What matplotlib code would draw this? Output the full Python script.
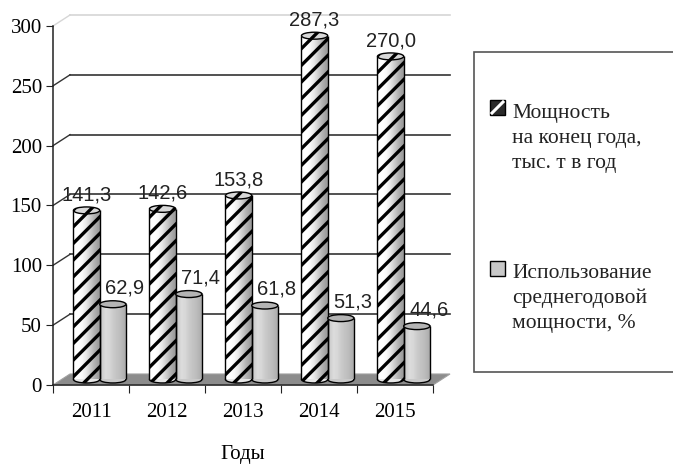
import numpy as np
import matplotlib.pyplot as plt
from matplotlib.patches import Ellipse, Polygon, Rectangle
from matplotlib.lines import Line2D

# данные
years = ["2011", "2012", "2013", "2014", "2015"]
power = [141.3, 142.6, 153.8, 287.3, 270.0]      # мощность на конец года, тыс. т
usage = [62.9, 71.4, 61.8, 51.3, 44.6]           # использование мощности, %
yticks = [0, 50, 100, 150, 200, 250, 300]
legend_labels = ["Мощность\nна конец года,\nтыс. т в год",
                 "Использование\nсреднегодовой\nмощности, %"]
xlabel = "Годы"

# псевдо-3D параметры (в единицах данных)
DX = 0.224      # сдвиг задней стенки по x
DY = 9.2        # сдвиг задней стенки по y
W = 0.345       # ширина цилиндра
EH = 5.8        # высота эллипса крышки

serif = "Liberation Serif"
sans = "Liberation Sans"
plt.rcParams["hatch.linewidth"] = 2.4

W_PX, H_PX = 673, 465
fig = plt.figure(figsize=(W_PX / 100, H_PX / 100), dpi=100)
ax = fig.add_axes([53 / W_PX, 80 / H_PX, 380 / W_PX, 359 / H_PX])
ax.set_facecolor("none")

n = len(years)

# задняя стенка: линии сетки и боковые диагонали
for v in yticks[1:]:
    c = "#d6d6d6" if v == yticks[-1] else "#333333"
    ax.plot([DX, n + DX], [v + DY, v + DY], color=c, lw=1.2, clip_on=False, zorder=1)
    ax.plot([0, DX], [v, v + DY], color=c, lw=1.0, clip_on=False, zorder=1)

# пол
floor = Polygon([(0, 0), (n, 0), (n + DX, DY), (DX, DY)], closed=True,
                facecolor="#8c8c8c", edgecolor="#a0a0a0", lw=0.8,
                clip_on=False, zorder=2)
ax.add_patch(floor)


def cylinder(xc, val, grad, top_color, hatch):
    b = DY / 2
    x0, x1 = xc - W / 2, xc + W / 2
    ax.add_patch(Ellipse((xc, b), W, EH, facecolor=grad[len(grad) // 2] * np.ones(3),
                         edgecolor="black", lw=1.0, hatch=hatch, zorder=3, clip_on=False))
    ax.imshow(np.array([grad]), cmap="gray", vmin=0, vmax=1, aspect="auto",
              interpolation="bilinear", extent=[x0, x1, b, b + val], zorder=4,
              clip_on=False)
    if hatch:
        ax.bar(xc, val, width=W, bottom=b, facecolor="none", edgecolor="black",
               hatch=hatch, lw=0, zorder=5, clip_on=False)
    ax.vlines([x0, x1], b, b + val, color="black", lw=1.0, zorder=6)
    ax.add_patch(Ellipse((xc, b + val), W, EH, facecolor=top_color,
                         edgecolor="black", lw=1.0, hatch=hatch, zorder=7, clip_on=False))


grad_h = [1.0, 1.0, 0.97, 0.9, 0.8, 0.7, 0.62]
grad_g = [0.80, 0.86, 0.84, 0.79, 0.76, 0.73, 0.68]

for i in range(n):
    xh = i + 0.33 + DX / 2
    xg = i + 0.675 + DX / 2
    cylinder(xh, power[i], grad_h, "#d8d8d8", "//")
    cylinder(xg, usage[i], grad_g, "#b4b4b4", None)
    ax.text(xh, power[i] + DY / 2 + 8.5, f"{power[i]:.1f}".replace(".", ","),
            ha="center", va="baseline", fontsize=14.5, family=sans,
            color="#222222", zorder=8)
    ax.text(xg + 0.16, usage[i] + DY / 2 + 9, f"{usage[i]:.1f}".replace(".", ","),
            ha="center", va="baseline", fontsize=14.5, family=sans,
            color="#222222", zorder=8)

ax.set_xlim(0, n)
ax.set_ylim(0, 300)

for s in ["top", "right"]:
    ax.spines[s].set_visible(False)
for s in ["left", "bottom"]:
    ax.spines[s].set_color("#222222")
    ax.spines[s].set_linewidth(1.1)
    ax.spines[s].set_zorder(2.5)

ax.set_yticks(yticks)
ax.set_yticklabels([str(v) for v in yticks], family=serif, fontsize=15)
ax.tick_params(axis="y", direction="out", length=5, pad=3, color="#222222")

ax.set_xticks(range(n + 1))
ax.set_xticklabels([])
ax.set_xticks(np.arange(n) + 0.5, minor=True)
ax.set_xticklabels(years, minor=True, family=serif, fontsize=15)
ax.tick_params(axis="x", which="major", direction="out", length=6, color="#222222")
ax.tick_params(axis="x", which="minor", length=0, pad=13)

ax.set_xlabel(xlabel, family=serif, fontsize=15)
ax.xaxis.set_label_coords(0.5, -0.168)

# легенда
T = fig.transFigure
fig.patches.append(Rectangle((474 / W_PX, 1 - 372 / H_PX), 1.0, 320 / H_PX,
                             transform=T, facecolor="white", edgecolor="#555555",
                             lw=1.2, clip_on=False))
sq = 15
mx = 490
# маркер 1: штриховка
fig.patches.append(Rectangle((mx / W_PX, 1 - 115 / H_PX), sq / W_PX, sq / H_PX,
                             transform=T, facecolor="#2a2a2a", edgecolor="black", lw=1))
fig.lines.append(Line2D([(mx + 2) / W_PX, (mx + sq - 2) / W_PX],
                        [1 - 113 / H_PX, 1 - 102 / H_PX], transform=T,
                        color="white", lw=2.2))
# маркер 2: серый
fig.patches.append(Rectangle((mx / W_PX, 1 - 276 / H_PX), sq / W_PX, sq / H_PX,
                             transform=T, facecolor="#c8c8c8", edgecolor="black", lw=1))

for lab, base in zip(legend_labels, [118, 278]):
    for k, line in enumerate(lab.split("\n")):
        fig.text(512 / W_PX, 1 - (base + 25 * k) / H_PX, line, transform=T,
                 ha="left", va="baseline", family=serif, fontsize=15.5, color="#222222")

fig.savefig("out.png", dpi=100)
